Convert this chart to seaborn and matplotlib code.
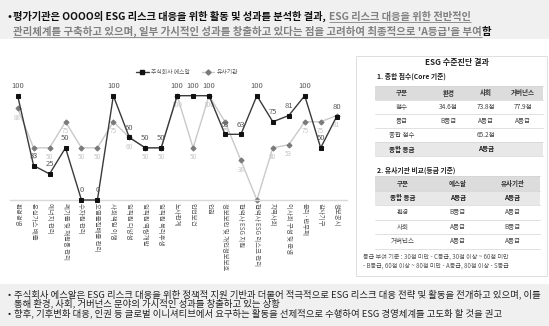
import matplotlib
matplotlib.use('Agg')
import matplotlib.pyplot as plt
import seaborn as sns
import pandas as pd
import numpy as np
from matplotlib.lines import Line2D
from matplotlib.patches import Rectangle

# ---------------- data ----------------
categories = ['환경경영', '온실가스 배출', '에너지 관리', '폐기물 및 재활용 관리', '수자원 관리',
              '오염물질배출 관리', '사회책임 이행', '임직원 다양성', '임직원 역량개발', '임직원 복리후생',
              '노사관계', '안전보건', '인권', '정보보안 및 개인정보보호', '협력사 ESG 지원',
              '협력사 ESG 리스크 관리', '지역사회', '이사회 구성 및 운영', '윤리·반부패', '감사기구', '정보공시']
company = [100, 33, 25, 50, 0, 0, 100, 60, 50, 50, 100, 100, 100, 63, 63, 100, 75, 81, 100, 50, 80]
peer = [88, 50, 50, 75, 50, 50, 75, 60, 50, 50, 100, 50, 100, 75, 38, 0, 50, 53, 75, 75, 81]
series_names = ['주식회사 에스알', '유사기관']

top_line1_black = '평가기관은 OOOO의 ESG 리스크 대응을 위한 활동 및 성과를 분석한 결과,'
top_line1_gray = 'ESG 리스크 대응을 위한 전반적인'
top_line2_gray = "관리체계를 구축하고 있으며, 일부 가시적인 성과를 창출하고 있다는 점을 고려하여 최종적으로 'A등급'을 부여"
top_line2_black = '함'
bottom_lines = ['주식회사 에스알은 ESG 리스크 대응을 위한 정책적 지원 기반과 더불어 적극적으로 ESG 리스크 대응 전략 및 활동을 전개하고 있으며, 이를',
                '통해 환경, 사회, 거버넌스 분야의 가시적인 성과를 창출하고 있는 상황',
                '향후, 기후변화 대응, 인권 등 글로벌 이니셔티브에서 요구하는 활동을 선제적으로 수행하여 ESG 경영체계를 고도화 할 것을 권고']

panel_title = 'ESG 수준진단 결과'
sec1_title = '1. 종합 점수(Core 기준)'
t1_header = ['구분', '환경', '사회', '거버넌스']
t1_scores = ['점수', '34.6점', '73.8점', '77.9점']
t1_grades = ['등급', 'B등급', 'A등급', 'A등급']
t1_total_score = ['종합 점수', '65.2점']
t1_total_grade = ['종합 등급', 'A등급']
sec2_title = '2. 유사기관 비교(등급 기준)'
t2_header = ['구분', '에스알', '유사기관']
t2_rows = [['종합 등급', 'A등급', 'A등급'],
           ['환경', 'B등급', 'A등급'],
           ['사회', 'A등급', 'B등급'],
           ['거버넌스', 'A등급', 'A등급']]
footnote = ['등급 부여 기준 : 30점 미만 - C등급, 30점 이상 ~ 60점 미만',
            '- B등급, 60점 이상 ~ 80점 미만 - A등급, 80점 이상 - S등급']

# ---------------- style ----------------
sns.set_style('white')
plt.rcParams['font.family'] = ['Noto Sans CJK KR', 'DejaVu Sans']

W, H = 549, 326
fig = plt.figure(figsize=(W / 100, H / 100), dpi=100)
fig.patch.set_facecolor('white')

bg = fig.add_axes([0, 0, 1, 1], zorder=0)
bg.set_xlim(0, W)
bg.set_ylim(H, 0)
bg.axis('off')

# banners
bg.add_patch(Rectangle((0, 0), W, 39, color='#f0f0f0', lw=0))
bg.add_patch(Rectangle((0, 284), W, 42, color='#f0f0f0', lw=0))

# ---------------- top banner (fitted after drawing) ----------------
gray_u = '#808080'
bold = dict(fontweight='bold', va='baseline', ha='left')
bullet1 = bg.text(8, 20, '•', color='#111111', fontsize=7, **bold)
ta = bg.text(13, 20, top_line1_black, color='#111111', fontsize=7, **bold)
tb = bg.text(13, 20, top_line1_gray, color=gray_u, fontsize=7, **bold)
tc = bg.text(13, 34.5, top_line2_gray, color=gray_u, fontsize=7, **bold)
td = bg.text(13, 34.5, top_line2_black, color='#111111', fontsize=7, **bold)
ul1, = bg.plot([0, 1], [22, 22], color=gray_u, lw=0.6, solid_capstyle='butt')
ul2, = bg.plot([0, 1], [36.5, 36.5], color=gray_u, lw=0.6, solid_capstyle='butt')

bot = []
bot.append(bg.text(8, 297, '•', color='#222222', fontsize=6.3, va='baseline'))
bot.append(bg.text(14, 297, bottom_lines[0], color='#222222', fontsize=6.3, va='baseline'))
bot.append(bg.text(14, 306.5, bottom_lines[1], color='#222222', fontsize=6.3, va='baseline'))
bot.append(bg.text(8, 316, '•', color='#222222', fontsize=6.3, va='baseline'))
bot.append(bg.text(14, 316, bottom_lines[2], color='#222222', fontsize=6.3, va='baseline'))


def fit_lines():
    for _ in range(3):
        fig.canvas.draw()
        r = fig.canvas.get_renderer()
        wa = ta.get_window_extent(r).width
        wb = tb.get_window_extent(r).width
        s1 = (473 - 13 - 3) / (wa + wb)
        f1 = ta.get_fontsize() * s1
        for t in (ta, tb, bullet1):
            t.set_fontsize(f1)
        wc = tc.get_window_extent(r).width
        wd = td.get_window_extent(r).width
        s2 = (488 - 13) / (wc + wd)
        f2 = tc.get_fontsize() * s2
        for t in (tc, td):
            t.set_fontsize(f2)
        wbot = bot[1].get_window_extent(r).width
        fb = bot[1].get_fontsize() * (540 - 14) / wbot
        for t in bot:
            t.set_fontsize(fb)
    fig.canvas.draw()
    r = fig.canvas.get_renderer()
    wa = ta.get_window_extent(r).width
    wb = tb.get_window_extent(r).width
    tb.set_x(13 + wa + 3)
    ul1.set_data([13 + wa + 3, 13 + wa + 3 + wb], [22, 22])
    wc = tc.get_window_extent(r).width
    td.set_x(13 + wc)
    ul2.set_data([13, 13 + wc], [36.5, 36.5])


# ---------------- chart ----------------
ax = fig.add_axes([10 / W, (H - 200) / H, 337 / W, (200 - 95.7) / H], zorder=2)
ax.patch.set_alpha(0)
df = pd.DataFrame({'pos': np.arange(len(categories)), 'company': company, 'peer': peer})

sns.lineplot(data=df, x='pos', y='peer', ax=ax, color='#c9c9c9', lw=1.0, marker='D',
             markersize=2.6, markerfacecolor='#7a7a7a', markeredgecolor='#7a7a7a',
             clip_on=False, zorder=2)
sns.lineplot(data=df, x='pos', y='company', ax=ax, color='#3a3a3a', lw=1.0, marker='s',
             markersize=3.4, markerfacecolor='#111111', markeredgecolor='#111111',
             clip_on=False, zorder=3)

ax.set_xlim(-0.48, 20.65)
ax.set_ylim(0, 100)
ax.set_xticks(df['pos'])
ax.set_xticklabels(categories, rotation=-90, fontsize=4.6, color='#595959', va='top', ha='center')
ax.tick_params(axis='x', length=0, pad=2)
ax.set_yticks([])
ax.set_xlabel('')
ax.set_ylabel('')
for s in ['top', 'left', 'right']:
    ax.spines[s].set_visible(False)
ax.spines['bottom'].set_color('#d9d9d9')
ax.spines['bottom'].set_linewidth(1.0)

for i, v in enumerate(company):
    ax.annotate(str(v), (i, v), xytext=(0, 4), textcoords='offset points', ha='center',
                va='bottom', fontsize=5.5, color='#595959', annotation_clip=False, zorder=5)
for i, v in enumerate(peer):
    if v == 0:
        continue
    ax.annotate(str(v), (i, v), xytext=(0, -4), textcoords='offset points', ha='center',
                va='top', fontsize=4.6, color='#c4c4c4', annotation_clip=False, zorder=1)

handles = [Line2D([], [], color='#3a3a3a', lw=1.0, marker='s', markersize=3.4,
                  markerfacecolor='#111111', markeredgecolor='#111111'),
           Line2D([], [], color='#c9c9c9', lw=1.0, marker='D', markersize=2.6,
                  markerfacecolor='#7a7a7a', markeredgecolor='#7a7a7a')]
fig.legend(handles, series_names, loc='center', bbox_to_anchor=(187 / W, 1 - 72 / H),
           ncol=2, frameon=False, fontsize=4.2, handlelength=2.2, columnspacing=2.0,
           handletextpad=0.4, labelcolor='#595959')

# ---------------- right panel ----------------
bg.add_patch(Rectangle((356, 56), 191, 220, facecolor='white', edgecolor='#d9d9d9', lw=0.6))
bg.text(457, 63, panel_title, ha='center', va='center', fontsize=5.8, fontweight='bold', color='#222222')
bg.text(377, 76, sec1_title, ha='left', va='center', fontsize=4.9, fontweight='bold', color='#222222')

tfs = 4.7
tcol = '#444444'
# table 1
c1 = [375, 429, 468, 503, 543]
rows1 = [86, 100, 114, 128, 142, 156]
bg.add_patch(Rectangle((c1[0], rows1[0]), c1[-1] - c1[0], 14, color='#dcdcdc', lw=0))
bg.add_patch(Rectangle((c1[0], rows1[4]), c1[-1] - c1[0], 14, color='#e8e8e8', lw=0))
for yy in rows1:
    bg.plot([c1[0], c1[-1]], [yy, yy], color='#d4d4d4', lw=0.5)
centers1 = [(c1[i] + c1[i + 1]) / 2 for i in range(4)]
merged_c = (c1[1] + c1[-1]) / 2
for j, s in enumerate(t1_header):
    bg.text(centers1[j], 93, s, ha='center', va='center', fontsize=tfs, color='#333333', fontweight='bold')
for j, s in enumerate(t1_scores):
    bg.text(centers1[j], 107, s, ha='center', va='center', fontsize=tfs, color=tcol)
for j, s in enumerate(t1_grades):
    bg.text(centers1[j], 121, s, ha='center', va='center', fontsize=tfs, color=tcol)
bg.text(centers1[0], 135, t1_total_score[0], ha='center', va='center', fontsize=tfs, color=tcol)
bg.text(merged_c, 135, t1_total_score[1], ha='center', va='center', fontsize=tfs, color=tcol)
bg.text(centers1[0], 149, t1_total_grade[0], ha='center', va='center', fontsize=tfs, color='#222222', fontweight='bold')
bg.text(merged_c, 149, t1_total_grade[1], ha='center', va='center', fontsize=tfs, color='#222222', fontweight='bold')

# table 2
bg.text(377, 170, sec2_title, ha='left', va='center', fontsize=4.9, fontweight='bold', color='#222222')
c2 = [375, 431, 485, 540]
rows2 = [176, 190.5, 205, 219.5, 234, 248.5]
bg.add_patch(Rectangle((c2[0], rows2[0]), c2[-1] - c2[0], 14.5, color='#dcdcdc', lw=0))
bg.add_patch(Rectangle((c2[0], rows2[1]), c2[-1] - c2[0], 14.5, color='#e8e8e8', lw=0))
for yy in rows2:
    bg.plot([c2[0], c2[-1]], [yy, yy], color='#d4d4d4', lw=0.5)
centers2 = [(c2[i] + c2[i + 1]) / 2 for i in range(3)]
for j, s in enumerate(t2_header):
    bg.text(centers2[j], (rows2[0] + rows2[1]) / 2, s, ha='center', va='center', fontsize=tfs,
            color='#333333', fontweight='bold')
for r, row in enumerate(t2_rows):
    yc = (rows2[r + 1] + rows2[r + 2]) / 2
    for j, s in enumerate(row):
        b = (r == 0)
        bg.text(centers2[j], yc, s, ha='center', va='center', fontsize=tfs,
                color='#222222' if b else tcol, fontweight='bold' if b else 'normal')

bg.text(363, 257, footnote[0], ha='left', va='center', fontsize=4.4, color='#555555')
bg.text(363, 266, footnote[1], ha='left', va='center', fontsize=4.4, color='#555555')

fit_lines()
fig.savefig('out.png', dpi=100, facecolor='white')
